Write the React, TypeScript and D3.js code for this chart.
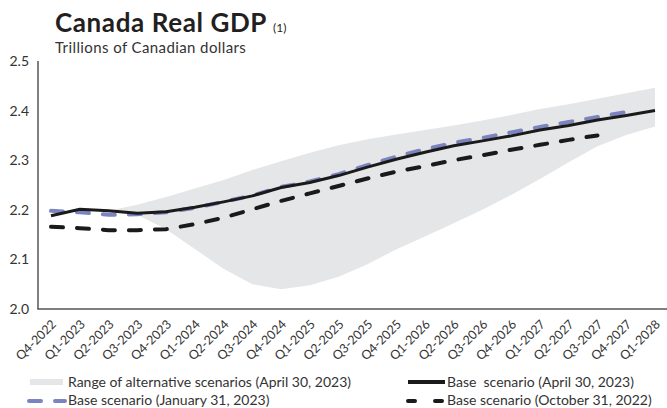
import React from "react";
import * as d3 from "d3";

const categories = [
  "Q4-2022", "Q1-2023", "Q2-2023", "Q3-2023", "Q4-2023", "Q1-2024", "Q2-2024", "Q3-2024",
  "Q4-2024", "Q1-2025", "Q2-2025", "Q3-2025", "Q4-2025", "Q1-2026", "Q2-2026", "Q3-2026",
  "Q4-2026", "Q1-2027", "Q2-2027", "Q3-2027", "Q4-2027", "Q1-2028",
];

const baseApr2023 = [2.188, 2.201, 2.198, 2.193, 2.196, 2.205, 2.216, 2.228, 2.245, 2.255, 2.269,
  2.286, 2.302, 2.316, 2.329, 2.339, 2.349, 2.361, 2.370, 2.381, 2.390, 2.400];

const baseJan2023 = [2.198, 2.195, 2.190, 2.191, 2.195, 2.204, 2.216, 2.229, 2.246, 2.257, 2.272,
  2.290, 2.307, 2.322, 2.335, 2.345, 2.356, 2.367, 2.377, 2.387, 2.397];

const baseOct2022 = [2.166, 2.163, 2.159, 2.159, 2.161, 2.171, 2.184, 2.201, 2.218, 2.233, 2.248,
  2.263, 2.277, 2.288, 2.300, 2.310, 2.321, 2.331, 2.341, 2.350];

const rangeStart = 2;
const rangeUpper = [2.198, 2.210, 2.226, 2.243, 2.260, 2.280, 2.298, 2.315, 2.330, 2.342, 2.352,
  2.361, 2.370, 2.380, 2.391, 2.403, 2.413, 2.424, 2.435, 2.446];
const rangeLower = [2.196, 2.190, 2.161, 2.121, 2.081, 2.050, 2.040, 2.048, 2.065, 2.090, 2.120,
  2.146, 2.173, 2.200, 2.230, 2.262, 2.296, 2.328, 2.351, 2.368];

const yTicks = [2.0, 2.1, 2.2, 2.3, 2.4, 2.5];

const FONT = "Lato, 'Open Sans', sans-serif";
const TEXT = "#333";
const BLUE = "#7c84bf";
const BAND = "#e5e6e8";

export default function App() {
  const W = 667, H = 408;
  const x = d3.scalePoint<string>().domain(categories).range([51, 655]);
  const y = d3.scaleLinear().domain([2.0, 2.5]).range([309, 61]);

  const line = d3.line<number>()
    .x((_, i) => x(categories[i]) as number)
    .y((d) => y(d));

  const bandData = rangeUpper.map((u, i) => ({ c: categories[rangeStart + i], u, l: rangeLower[i] }));
  const area = d3.area<{ c: string; u: number; l: number }>()
    .x((d) => x(d.c) as number)
    .y0((d) => y(d.l))
    .y1((d) => y(d.u));

  return (
    <svg width={W} height={H} style={{ position: "absolute", left: 0, top: 0, background: "#fff" }}
      fontFamily={FONT}>
      <text x={55} y={32} fontSize={26} fontWeight={700} fill="#231f20" letterSpacing={0.6}>
        Canada Real GDP
        <tspan fontSize={12} fontWeight={400} dx={6} letterSpacing={0}>(1)</tspan>
      </text>
      <text x={55} y={53} fontSize={15} fill={TEXT} letterSpacing={0.4}>Trillions of Canadian dollars</text>

      <path d={area(bandData) || ""} fill={BAND} />

      {yTicks.map((t) => (
        <text key={t} x={29} y={y(t)} dy="0.35em" textAnchor="end" fontSize={14} fill={TEXT}>
          {t.toFixed(1)}
        </text>
      ))}
      <line x1={38} x2={38} y1={61} y2={309} stroke="#555" strokeWidth={1.5} />
      <line x1={37.25} x2={667} y1={309} y2={309} stroke="#555" strokeWidth={1.5} />

      {categories.map((c) => (
        <text key={c} transform={`translate(${(x(c) as number) + 6},325) rotate(-45)`}
          textAnchor="end" fontSize={12.5} fill={TEXT}>
          {c}
        </text>
      ))}

      <path d={line(baseOct2022) || ""} fill="none" stroke="#1a1a1a" strokeWidth={4}
        strokeDasharray="12 14" strokeLinecap="round" />
      <path d={line(baseJan2023) || ""} fill="none" stroke={BLUE} strokeWidth={4}
        strokeDasharray="12 14" strokeLinecap="round" />
      <path d={line(baseApr2023) || ""} fill="none" stroke="#1a1a1a" strokeWidth={3} />

      <rect x={30} y={379} width={33} height={6} fill={BAND} />
      <text x={68} y={387} fontSize={14} fill={TEXT}>Range of alternative scenarios (April 30, 2023)</text>
      <line x1={408} x2={445} y1={382} y2={382} stroke="#1a1a1a" strokeWidth={4} />
      <text x={447} y={387} fontSize={14} fill={TEXT} style={{ whiteSpace: "pre" }}>{"Base  scenario (April 30, 2023)"}</text>

      <line x1={29} x2={65} y1={401} y2={401} stroke={BLUE} strokeWidth={4} strokeDasharray="12 14" strokeLinecap="round" />
      <text x={68} y={405} fontSize={14} fill={TEXT}>Base scenario (January 31, 2023)</text>
      <line x1={408} x2={445} y1={401} y2={401} stroke="#1a1a1a" strokeWidth={4} strokeDasharray="7 20" strokeLinecap="round" />
      <text x={447} y={405} fontSize={14} fill={TEXT}>Base scenario (October 31, 2022)</text>
    </svg>
  );
}
